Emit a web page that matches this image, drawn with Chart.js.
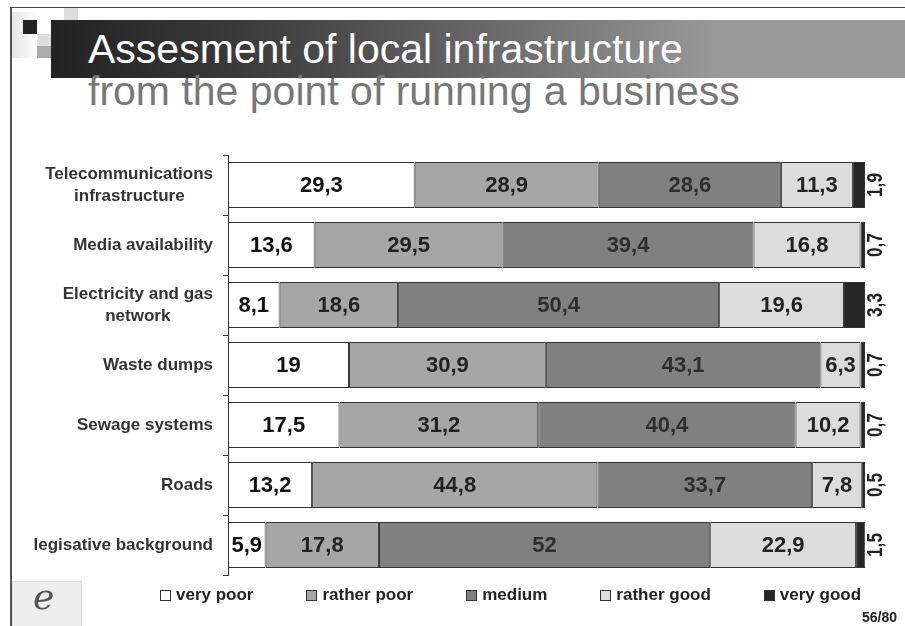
<!DOCTYPE html>
<html>
<head>
<meta charset="utf-8">
<script src="https://cdn.jsdelivr.net/npm/chart.js@4.4.1/dist/chart.umd.min.js"></script>
<style>
  html, body { margin: 0; padding: 0; background: #fff; }
  body { width: 905px; height: 626px; position: relative; overflow: hidden; font-family: Arial, "Liberation Sans", sans-serif; }
  #frameTop { position: absolute; left: 10px; top: 7px; width: 895px; height: 1px; background: #444; }
  #frameLeft { position: absolute; left: 10px; top: 7px; width: 2px; height: 619px; background: #555; }
  .sq { position: absolute; width: 14px; height: 14px; }
  #titleBar { position: absolute; left: 51px; top: 20px; width: 854px; height: 58px;
    background: linear-gradient(to right, #222 0%, #3a3a3a 22%, #6a6a6a 52%, #999 78%, #999 100%); }
  #title { position: absolute; left: 88px; top: 25px; font-size: 41px; color: #fff; white-space: nowrap; line-height: 48px; }
  #subtitle { position: absolute; left: 88px; top: 67px; font-size: 41px; color: #777; white-space: nowrap; line-height: 48px; }
  #chartWrap { position: absolute; left: 0; top: 0; width: 905px; height: 626px; }
  #legend { position: absolute; left: 160px; top: 585px; display: flex; gap: 53px; font-weight: bold; font-size: 17px; color: #222; }
  #legend span.item { display: flex; align-items: center; white-space: nowrap; }
  #legend span.box { display: inline-block; width: 9px; height: 9px; border: 1px solid #333; margin-right: 5px; }
  #page { position: absolute; left: 862px; top: 609px; font-size: 14px; font-weight: bold; color: #222; }
  #logo { position: absolute; left: 12px; top: 581px; width: 68px; height: 45px; background: #eee; border: 1px solid #ddd; }
  #logo span { position: absolute; left: 20px; top: -6px; font-family: "DejaVu Serif", serif; font-style: italic; font-size: 36px; color: #555; }
</style>
</head>
<body>
<div id="frameTop"></div>
<div id="frameLeft"></div>
<div class="sq" style="left:12px;top:12px;width:26px;height:46px;background:linear-gradient(to right,#e6e6e6,#fff);"></div>
<div class="sq" style="left:23px;top:20px;background:#222;"></div>
<div class="sq" style="left:64px;top:8px;height:12px;background:#ddd;"></div>
<div class="sq" style="left:51px;top:20px;background:#ddd;"></div>
<div class="sq" style="left:64px;top:20px;background:#aaa;"></div>
<div class="sq" style="left:37px;top:34px;background:#ddd;"></div>
<div class="sq" style="left:51px;top:34px;background:#aaa;"></div>
<div class="sq" style="left:37px;top:46px;height:12px;background:#aaa;"></div>
<div id="titleBar"></div>
<div id="title">Assesment of local infrastructure</div>
<div id="subtitle">from the point of running a business</div>
<div id="chartWrap"><canvas id="chart" width="905" height="626"></canvas></div>
<div id="legend"></div>
<div id="logo"><span>e</span></div>
<div id="page">56/80</div>
<script>
const categories = [
  ['Telecommunications', 'infrastructure'],
  'Media availability',
  ['Electricity and gas', 'network'],
  'Waste dumps',
  'Sewage systems',
  'Roads',
  'legisative background'
];
const seriesNames = ['very poor', 'rather poor', 'medium', 'rather good', 'very good'];
const veryPoor   = [29.3, 13.6, 8.1, 19, 17.5, 13.2, 5.9];
const ratherPoor = [28.9, 29.5, 18.6, 30.9, 31.2, 44.8, 17.8];
const medium     = [28.6, 39.4, 50.4, 43.1, 40.4, 33.7, 52];
const ratherGood = [11.3, 16.8, 19.6, 6.3, 10.2, 7.8, 22.9];
const veryGood   = [1.9, 0.7, 3.3, 0.7, 0.7, 0.5, 1.5];
const colors = ['#ffffff', '#a6a6a6', '#808080', '#dcdcdc', '#262626'];
const labelColors = ['#111', '#222', '#2e2e2e', '#222', '#222'];

const allSeries = [veryPoor, ratherPoor, medium, ratherGood, veryGood];

const fmt = v => String(v).replace('.', ',');

const tickFont = 'bold 17px Arial, "Liberation Sans", sans-serif';
const measureCtx = document.createElement('canvas').getContext('2d');
measureCtx.font = tickFont;

// two-line labels are centred on each other: pad the shorter line on the right
function centredLines(label) {
  if (!Array.isArray(label)) return label;
  const widths = label.map(s => measureCtx.measureText(s).width);
  const max = Math.max(...widths);
  const sp = measureCtx.measureText('\u200A').width || 1;
  return label.map((s, i) => s + '\u200A'.repeat(Math.round((max - widths[i]) / 2 / sp)));
}

// value labels inside the segments, last series rotated outside the bar
const barLabels = {
  id: 'barLabels',
  afterDatasetsDraw(chart) {
    const ctx = chart.ctx;
    const area = chart.chartArea;
    ctx.save();
    ctx.textBaseline = 'middle';
    ctx.textAlign = 'center';
    chart.data.datasets.forEach((ds, di) => {
      const meta = chart.getDatasetMeta(di);
      meta.data.forEach((bar, i) => {
        const v = ds.data[i];
        if (di === 4) {
          ctx.save();
          ctx.translate(area.right + 10, bar.y);
          ctx.rotate(-Math.PI / 2);
          ctx.scale(0.78, 1);
          ctx.font = 'bold 22px Arial, "Liberation Sans", sans-serif';
          ctx.fillStyle = labelColors[di];
          ctx.fillText(fmt(v), 0, 1);
          ctx.restore();
        } else {
          ctx.font = 'bold 22px Arial, "Liberation Sans", sans-serif';
          ctx.fillStyle = labelColors[di];
          ctx.fillText(fmt(v), (bar.x + bar.base) / 2, bar.y + 1);
        }
      });
    });
    ctx.restore();
  }
};

const chart = new Chart(document.getElementById('chart'), {
  type: 'bar',
  data: {
    labels: categories,
    datasets: allSeries.map((d, i) => ({
      label: seriesNames[i],
      data: d,
      backgroundColor: colors[i],
      borderColor: '#333',
      borderWidth: 1,
      borderSkipped: false,
      barPercentage: 0.77,
      categoryPercentage: 1
    }))
  },
  options: {
    indexAxis: 'y',
    responsive: false,
    animation: false,
    layout: { padding: { left: 30, right: 40, top: 155, bottom: 51 } },
    plugins: {
      legend: { display: false },
      tooltip: { enabled: false }
    },
    scales: {
      x: { stacked: true, min: 0, max: 100, display: false },
      y: {
        stacked: true,
        afterFit(scale) { scale.width = 198; },
        grid: { drawOnChartArea: false, drawTicks: true, tickLength: 5, color: '#333', offset: true },
        border: { color: '#333', width: 1 },
        ticks: {
          color: '#333',
          padding: 10,
          callback: function(value, index) { return centredLines(categories[index]); },
          font: { family: 'Arial, "Liberation Sans", sans-serif', size: 17, weight: 'bold', lineHeight: 1.3 }
        }
      }
    }
  },
  plugins: [barLabels]
});

// legend
const legend = document.getElementById('legend');
seriesNames.forEach((name, i) => {
  const item = document.createElement('span');
  item.className = 'item';
  item.innerHTML = '<span class="box" style="background:' + colors[i] + '"></span>' + name;
  legend.appendChild(item);
});
</script>
</body>
</html>
